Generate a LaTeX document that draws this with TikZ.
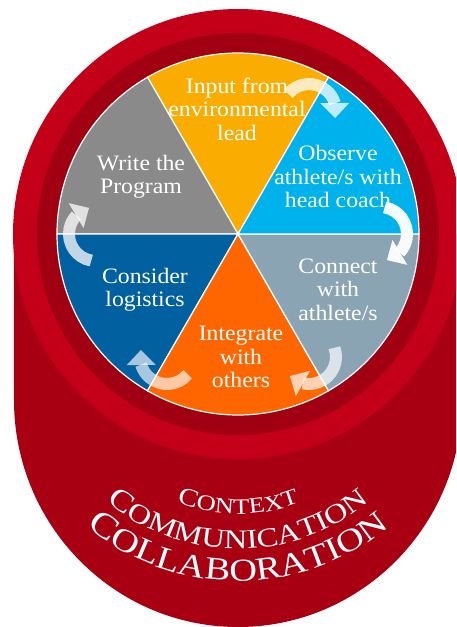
\documentclass[tikz,border=0pt]{standalone}
\usepackage{fontspec}
\setmainfont{Liberation Serif}[FakeStretch=1.08]
\newfontfamily\archfont{Liberation Serif}[FakeStretch=1.2]
\usetikzlibrary{arrows.meta}
\usetikzlibrary{bending}
\usetikzlibrary{decorations.text}

\definecolor{basered}{RGB}{168,0,18}
\definecolor{ringred}{RGB}{196,0,24}
\definecolor{ringdark}{RGB}{160,0,17}
\definecolor{inputyellow}{RGB}{250,173,0}
\definecolor{observecyan}{RGB}{0,178,236}
\definecolor{connectgrey}{RGB}{138,164,180}
\definecolor{integrateorange}{RGB}{255,102,0}
\definecolor{logisticsblue}{RGB}{0,96,160}
\definecolor{programgrey}{RGB}{138,138,138}

\begin{document}
\begin{tikzpicture}
    [
    x=1pt, y=1pt,
    sector/.style={draw=white, line width=1.2pt},
    steptext/.style={text=white, align=center, inner sep=0pt, font=\fontsize{22}{23.5}\selectfont},
    turn/.style={draw=white, line width=12pt, -{Triangle[width=29pt,length=15pt,line width=0pt]}},
    arch/.style={decorate, decoration={text along path, text align=center, text={#1}}},
    ]
    \useasboundingbox (-238,-393) rectangle (218,234);
    \clip (-238,-393) rectangle (218,234);
    \fill [white] (-238,-393) rectangle (218,234);

    % red cup behind the wheel
    \fill [basered] (-224,0) -- (-224,-166) arc[start angle=180, end angle=360, x radius=224pt, y radius=227pt] -- (224,0) -- cycle;
    \fill [ringred] (0,0) circle[radius=225pt];
    \fill [ringdark] (0,0) circle[radius=201pt];

    % six steps of the wheel
    \draw [sector, fill=inputyellow] (0,0) -- (60:181pt) arc[start angle=60, end angle=120, radius=181pt] -- cycle;
    \draw [sector, fill=programgrey] (0,0) -- (120:181pt) arc[start angle=120, end angle=180, radius=181pt] -- cycle;
    \draw [sector, fill=logisticsblue] (0,0) -- (180:181pt) arc[start angle=180, end angle=240, radius=181pt] -- cycle;
    \draw [sector, fill=integrateorange] (0,0) -- (240:181pt) arc[start angle=240, end angle=300, radius=181pt] -- cycle;
    \draw [sector, fill=connectgrey] (0,0) -- (300:181pt) arc[start angle=300, end angle=360, radius=181pt] -- cycle;
    \draw [sector, fill=observecyan] (0,0) -- (0:181pt) arc[start angle=0, end angle=60, radius=181pt] -- cycle;

    \node (input) at (-1,125) [steptext] {Input from\\environmental\\lead};
    \node (observe) at (100,57.5) [steptext] {Observe\\athlete/s with\\head coach};
    \node (connect) at (100,-55.5) [steptext] {Connect\\with\\athlete/s};
    \node (integrate) at (3,-123) [steptext] {Integrate\\with\\others};
    \node (logistics) at (-93,-55.5) [steptext] {Consider\\logistics};
    \node (program) at (-97,57.5) [steptext] {Write the\\Program};

    % turning arrows across the borders
    \coordinate (ar1) at (60:142pt);
    \coordinate (ar2) at (0:142pt);
    \coordinate (ar3) at (-60:142pt);
    \coordinate (ar4) at (-120:142pt);
    \coordinate (ar5) at (180:142pt);
    \draw [turn, opacity=0.75] ([shift={(140:27pt)}]ar1) arc[start angle=140, end angle=-15, radius=27pt];
    \draw [turn, opacity=0.95] ([shift={(80:27pt)}]ar2) arc[start angle=80, end angle=-75, radius=27pt];
    \draw [turn, opacity=0.7] ([shift={(20:27pt)}]ar3) arc[start angle=20, end angle=-135, radius=27pt];
    \draw [turn, opacity=0.65] ([shift={(-40:27pt)}]ar4) arc[start angle=-40, end angle=-195, radius=27pt];
    \draw [turn, opacity=0.75] ([shift={(260:27pt)}]ar5) arc[start angle=260, end angle=105, radius=27pt];

    % arched words on the cup, all round one centre
    \coordinate (archc) at (0,-110);
    \path [arch={|\color{white}\archfont\fontsize{25}{25}\selectfont|C|\color{white}\archfont\fontsize{22}{22}\selectfont|ONTEXT}]
        ([shift={(225:170pt)}]archc) arc[start angle=225, end angle=315, radius=170pt];
    \path [arch={|\color{white}\archfont\fontsize{30}{30}\selectfont|C|\color{white}\archfont\fontsize{27}{27}\selectfont|OMMUNICATION}]
        ([shift={(205:205pt)}]archc) arc[start angle=205, end angle=335, radius=205pt];
    \path [arch={|\color{white}\archfont\fontsize{35}{35}\selectfont|C|\color{white}\archfont\fontsize{32}{32}\selectfont|OLLABORATION}]
        ([shift={(205:237pt)}]archc) arc[start angle=205, end angle=335, radius=237pt];
\end{tikzpicture}
\end{document}
